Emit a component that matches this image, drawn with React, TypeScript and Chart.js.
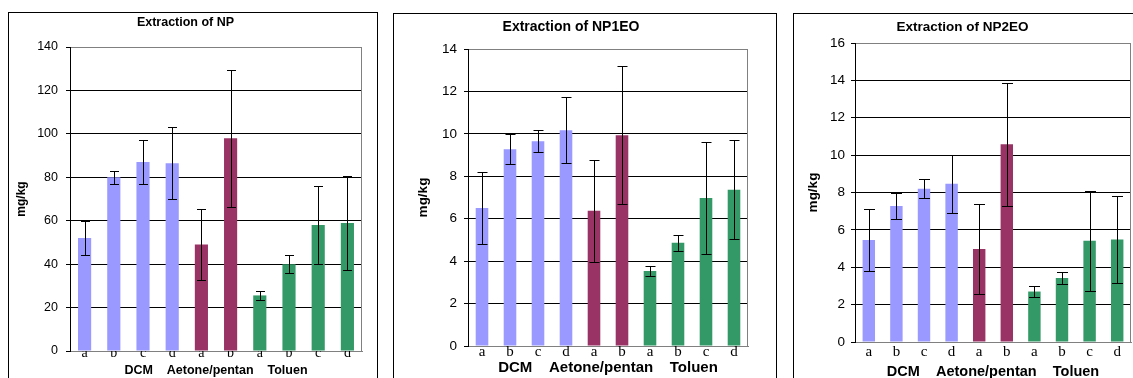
import { useEffect, useRef } from 'react';
import { Chart, registerables } from 'chart.js';

Chart.register(...registerables);

// Sample labels along the x axis and the solvent groups written beneath them
const categories = ['a', 'b', 'c', 'd', 'a', 'b', 'a', 'b', 'c', 'd'];
const groups = ['DCM', 'Aetone/pentan', 'Toluen'];
const barColors = [
  '#9999FF', '#9999FF', '#9999FF', '#9999FF',
  '#993366', '#993366',
  '#339966', '#339966', '#339966', '#339966',
];

// Concentrations (mg/kg) with their standard deviations
const npValues = [52, 80, 87, 86.5, 49, 98, 25.6, 40, 58, 59];
const npErrors = [8, 3, 10, 16.5, 16.5, 31.6, 2.2, 4.2, 17.8, 21.5];

const np1eoValues = [6.5, 9.27, 9.65, 10.17, 6.37, 9.94, 3.53, 4.87, 6.98, 7.37];
const np1eoErrors = [1.7, 0.7, 0.52, 1.55, 2.4, 3.26, 0.24, 0.37, 2.65, 2.33];

const np2eoValues = [5.46, 7.28, 8.2, 8.47, 4.98, 10.58, 2.7, 3.43, 5.42, 5.48];
const np2eoErrors = [1.68, 0.68, 0.5, 1.55, 2.42, 3.3, 0.27, 0.34, 2.68, 2.33];

const SANS = "'Liberation Sans', Arial, sans-serif";
const SERIF = "'Liberation Serif', 'Times New Roman', serif";

type PanelSpec = {
  left: number;
  top: number;
  width: number;
  canvasHeight: number;
  title: string;
  titleSize: number;
  titlePad: { top: number; bottom: number };
  yTitleSize: number;
  yTitlePad: number;
  yWidth: number;
  padRight: number;
  yMax: number;
  yStep: number;
  yTickSize: number;
  yTickPad: number;
  xTickSize: number;
  xTickPad: number;
  xHeight: number;
  xTitleSize: number;
  xTitlePad: number;
  groupGap: string;
  cap: number;
  values: number[];
  errors: number[];
};

// Symmetric error bars with caps, drawn from each bar's value and deviation
const errorBars = {
  id: 'errorBars',
  afterDatasetsDraw(chart: any, _args: any, opts: any) {
    const { ctx } = chart;
    const yScale = chart.scales.y;
    const cap = opts.cap ?? 4.5;
    chart.data.datasets.forEach((ds: any, di: number) => {
      const meta = chart.getDatasetMeta(di);
      const errs: number[] = ds.errors || [];
      meta.data.forEach((bar: any, i: number) => {
        const v = ds.data[i] as number;
        const e = errs[i];
        if (e == null) return;
        const x = Math.round(bar.x) + 0.5;
        const yTop = Math.round(yScale.getPixelForValue(v + e)) + 0.5;
        const yBot = Math.round(yScale.getPixelForValue(v - e)) + 0.5;
        ctx.save();
        ctx.strokeStyle = '#000';
        ctx.lineWidth = 1;
        ctx.beginPath();
        ctx.moveTo(x, yTop);
        ctx.lineTo(x, yBot);
        ctx.moveTo(x - cap, yTop);
        ctx.lineTo(x + cap, yTop);
        ctx.moveTo(x - cap, yBot);
        ctx.lineTo(x + cap, yBot);
        ctx.stroke();
        ctx.restore();
      });
    });
  },
};

// Grey right-hand edge of the plot area
const plotFrame = {
  id: 'plotFrame',
  beforeDatasetsDraw(chart: any) {
    const { ctx, chartArea } = chart;
    const x = Math.round(chartArea.right) - 0.5;
    ctx.save();
    ctx.strokeStyle = '#808080';
    ctx.lineWidth = 1;
    ctx.beginPath();
    ctx.moveTo(x, Math.round(chartArea.top));
    ctx.lineTo(x, Math.round(chartArea.bottom) + 1);
    ctx.stroke();
    ctx.restore();
  },
};

function Panel({ spec }: { spec: PanelSpec }) {
  const ref = useRef<HTMLCanvasElement | null>(null);

  useEffect(() => {
    if (!ref.current) return;
    const s = spec;
    const chart = new Chart(ref.current, {
      type: 'bar',
      data: {
        labels: categories,
        datasets: [
          {
            data: s.values,
            errors: s.errors,
            backgroundColor: barColors,
            borderWidth: 0,
            barPercentage: 0.45,
            categoryPercentage: 1,
          } as any,
        ],
      },
      plugins: [plotFrame, errorBars],
      options: {
        animation: false,
        responsive: false,
        devicePixelRatio: 1,
        color: '#000',
        layout: { padding: { left: 0, right: s.padRight, top: 0, bottom: 0 } },
        plugins: {
          legend: { display: false },
          tooltip: { enabled: false },
          title: {
            display: true,
            text: s.title,
            color: '#000',
            font: { family: SANS, size: s.titleSize, weight: 'bold', lineHeight: '16px' },
            padding: s.titlePad,
          },
          errorBars: { cap: s.cap },
        } as any,
        scales: {
          x: {
            grid: { display: false, drawTicks: false },
            border: { display: true, color: '#808080', width: 1 },
            ticks: {
              color: '#000',
              autoSkip: false,
              maxRotation: 0,
              padding: s.xTickPad,
              font: { family: SERIF, size: s.xTickSize },
            },
            title: {
              display: true,
              text: groups.join(s.groupGap),
              color: '#000',
              font: { family: SANS, size: s.xTitleSize, weight: 'bold', lineHeight: '16px' },
              padding: { top: 0, bottom: s.xTitlePad },
            },
            afterFit: (scale: any) => {
              scale.height = s.xHeight;
            },
          },
          y: {
            min: 0,
            max: s.yMax,
            grid: {
              color: (ctx: any) =>
                ctx.tick && (ctx.tick.value === 0 || ctx.tick.value === s.yMax) ? '#808080' : '#000',
              tickColor: '#000',
              drawTicks: true,
              tickLength: 4,
              lineWidth: 1,
            },
            border: { display: true, color: '#000', width: 1 },
            ticks: {
              stepSize: s.yStep,
              color: '#000',
              padding: s.yTickPad,
              font: { family: SANS, size: s.yTickSize },
            },
            title: {
              display: true,
              text: 'mg/kg',
              color: '#000',
              font: { family: SANS, size: s.yTitleSize, weight: 'bold', lineHeight: '16px' },
              padding: { top: s.yTitlePad, bottom: 0 },
            },
            afterFit: (scale: any) => {
              scale.width = s.yWidth;
            },
          },
        },
      } as any,
    });
    return () => chart.destroy();
  }, [spec]);

  return (
    <div
      style={{
        position: 'absolute',
        left: spec.left,
        top: spec.top,
        width: spec.width,
        height: 390,
        border: '1px solid #000',
        background: '#fff',
      }}
    >
      <canvas
        ref={ref}
        width={spec.width}
        height={spec.canvasHeight}
        style={{ display: 'block', width: spec.width, height: spec.canvasHeight }}
      />
    </div>
  );
}

const panels: PanelSpec[] = [
  {
    left: 8, top: 12, width: 368, canvasHeight: 372,
    title: 'Extraction of NP', titleSize: 12.5, titlePad: { top: 2, bottom: 16 },
    yTitleSize: 12, yTitlePad: 5, yWidth: 61, padRight: 15,
    yMax: 140, yStep: 20, yTickSize: 12.5, yTickPad: 8,
    xTickSize: 14, xTickPad: -6, xHeight: 34,
    xTitleSize: 12.5, xTitlePad: 6, groupGap: '    ', cap: 4.5,
    values: npValues, errors: npErrors,
  },
  {
    left: 393, top: 13, width: 382, canvasHeight: 372,
    title: 'Extraction of NP1EO', titleSize: 14, titlePad: { top: 5, bottom: 14 },
    yTitleSize: 13.5, yTitlePad: 21, yWidth: 74, padRight: 28,
    yMax: 14, yStep: 2, yTickSize: 13.5, yTickPad: 7,
    xTickSize: 15, xTickPad: -3, xHeight: 40,
    xTitleSize: 15, xTitlePad: 10, groupGap: '    ', cap: 5,
    values: np1eoValues, errors: np1eoErrors,
  },
  {
    left: 793, top: 13, width: 350, canvasHeight: 372,
    title: 'Extraction of NP2EO', titleSize: 13.5, titlePad: { top: 5, bottom: 8 },
    yTitleSize: 13.5, yTitlePad: 11, yWidth: 61, padRight: 13,
    yMax: 16, yStep: 2, yTickSize: 13.5, yTickPad: 6,
    xTickSize: 15, xTickPad: 1, xHeight: 44,
    xTitleSize: 14.5, xTitlePad: 6, groupGap: '    ', cap: 5.5,
    values: np2eoValues, errors: np2eoErrors,
  },
];

export default function App() {
  return (
    <div
      style={{
        position: 'fixed',
        left: 0,
        top: 0,
        width: 1133,
        height: 378,
        overflow: 'hidden',
        background: '#fff',
      }}
    >
      {panels.map((p, i) => (
        <Panel key={i} spec={p} />
      ))}
    </div>
  );
}
